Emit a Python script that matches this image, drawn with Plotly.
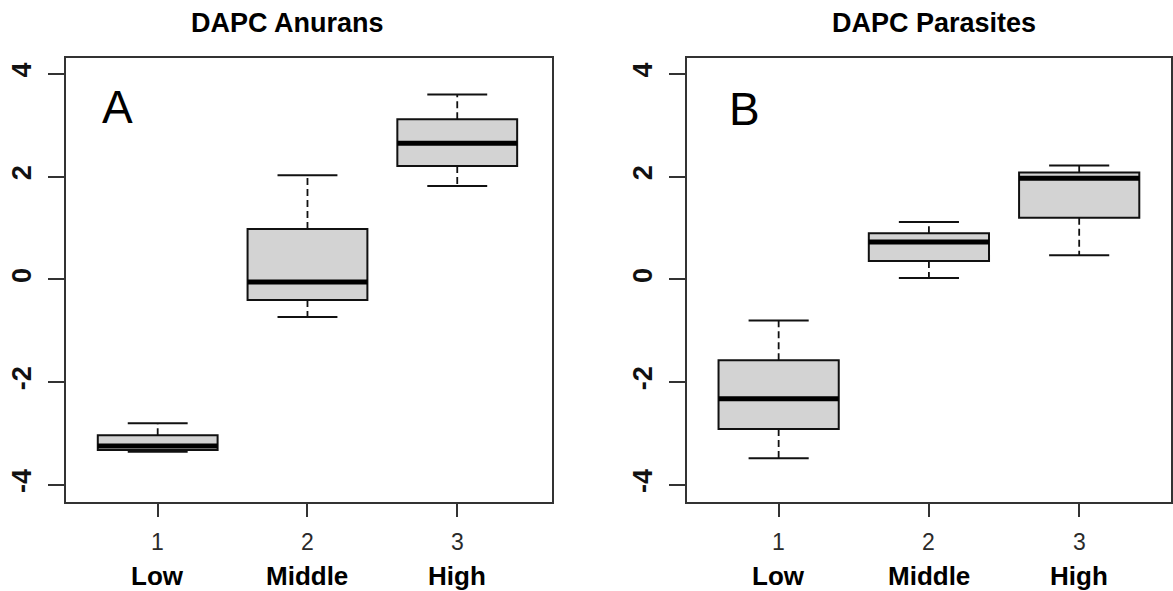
import plotly.graph_objects as go

# ---- data ----
groups = [1, 2, 3]
group_names = ["Low", "Middle", "High"]
tick_text = ["1", "2", "3"]

# Panel A: DAPC Anurans
a_lower = [-3.35, -0.73, 1.82]
a_q1 = [-3.32, -0.40, 2.21]
a_median = [-3.24, -0.05, 2.65]
a_q3 = [-3.03, 0.98, 3.12]
a_upper = [-2.80, 2.03, 3.60]

# Panel B: DAPC Parasites
b_lower = [-3.48, 0.03, 0.47]
b_q1 = [-2.91, 0.36, 1.20]
b_median = [-2.32, 0.73, 1.97]
b_q3 = [-1.57, 0.90, 2.08]
b_upper = [-0.80, 1.12, 2.22]

y_ticks = [-4, -2, 0, 2, 4]

FONT = "Liberation Sans, Arial, sans-serif"
BOX_W = 0.8
CAP_HALF = 0.2

fig = go.Figure()


def add_panel(xa, ya, lower, q1, med, q3, upper):
    # box bodies
    fig.add_trace(go.Box(
        x=groups, q1=q1, median=med, q3=q3, lowerfence=q1, upperfence=q3,
        width=BOX_W, fillcolor="#d3d3d3", line=dict(color="#111111", width=2),
        whiskerwidth=0, boxpoints=False, showlegend=False, hoverinfo="skip",
        xaxis=xa, yaxis=ya,
    ))
    # dashed whiskers
    wx, wy = [], []
    for g, lo, a, b, hi in zip(groups, lower, q1, q3, upper):
        wx += [g, g, None, g, g, None]
        wy += [b, hi, None, a, lo, None]
    fig.add_trace(go.Scatter(x=wx, y=wy, mode="lines",
                             line=dict(color="#111111", width=1.8, dash="7px,4px"),
                             showlegend=False, hoverinfo="skip", xaxis=xa, yaxis=ya))
    # whisker caps
    cx, cy = [], []
    for g, lo, hi in zip(groups, lower, upper):
        cx += [g - CAP_HALF, g + CAP_HALF, None, g - CAP_HALF, g + CAP_HALF, None]
        cy += [hi, hi, None, lo, lo, None]
    fig.add_trace(go.Scatter(x=cx, y=cy, mode="lines",
                             line=dict(color="#111111", width=2),
                             showlegend=False, hoverinfo="skip", xaxis=xa, yaxis=ya))
    # thick medians
    mx, my = [], []
    for g, m in zip(groups, med):
        mx += [g - BOX_W / 2, g + BOX_W / 2, None]
        my += [m, m, None]
    fig.add_trace(go.Scatter(x=mx, y=my, mode="lines",
                             line=dict(color="#000000", width=5),
                             showlegend=False, hoverinfo="skip", xaxis=xa, yaxis=ya))


add_panel("x", "y", a_lower, a_q1, a_median, a_q3, a_upper)
add_panel("x2", "y2", b_lower, b_q1, b_median, b_q3, b_upper)

W, H = 1173, 591
ydom = [1 - 502 / H, 1 - 58 / H]

xcommon = dict(
    tickmode="array", tickvals=groups, showticklabels=False,
    ticks="outside", ticklen=13, tickwidth=1.5, tickcolor="#333333",
    showline=True, linecolor="#333333", linewidth=2, mirror=True,
    showgrid=False, zeroline=False,
)
ycommon = dict(
    tickmode="array", tickvals=y_ticks, ticktext=[str(v) for v in y_ticks],
    range=[-4.33, 4.31],
    ticks="outside", ticklen=16, tickwidth=1.5, tickcolor="#333333",
    showline=True, linecolor="#333333", linewidth=2, mirror=True,
    showgrid=False, zeroline=False, tickangle=-90,
    tickfont=dict(family=FONT, size=27, color="#111111", weight="bold"),
    ticklabelstandoff=6,
)

fig.update_layout(
    width=W, height=H,
    margin=dict(l=0, r=0, t=0, b=0),
    paper_bgcolor="white", plot_bgcolor="white",
    xaxis=dict(domain=[66 / W, 553 / W], range=[0.387, 3.633], anchor="y", **xcommon),
    yaxis=dict(domain=ydom, anchor="x", **ycommon),
    xaxis2=dict(domain=[688 / W, 1.0], range=[0.389, 3.611], anchor="y2", **xcommon),
    yaxis2=dict(domain=ydom, anchor="x2", **ycommon),
)


def ann(text, x, y, size, xref="paper", color="#000000"):
    return dict(text=text, x=x, y=y, xref=xref, yref="paper", showarrow=False,
                xanchor="center", yanchor="middle",
                font=dict(family=FONT, size=size, color=color))


annotations = [
    ann("<b>DAPC Anurans</b>", 288 / W, 1 - 23 / H, 27),
    ann("<b>DAPC Parasites</b>", 936 / W, 1 - 23 / H, 27),
    ann("A", 118 / W, 1 - 107 / H, 46),
    ann("B", 746 / W, 1 - 109 / H, 46),
]
for xr in ["x", "x2"]:
    for g, t, name in zip(groups, tick_text, group_names):
        annotations.append(ann(t, g, 1 - 542 / H, 23, xref=xr, color="#2a2a2a"))
        annotations.append(ann("<b>%s</b>" % name, g, 1 - 576 / H, 26, xref=xr))
fig.update_layout(annotations=annotations)

fig.write_html("out.html")
